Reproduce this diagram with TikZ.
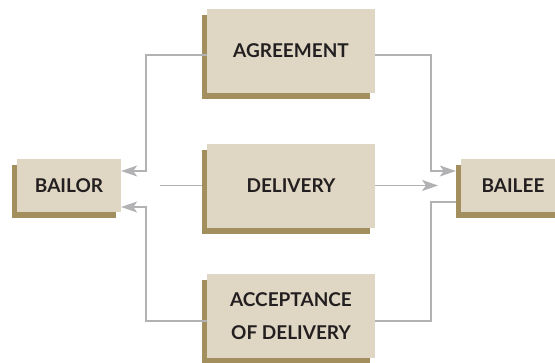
\documentclass[tikz,border=0pt]{standalone}
\usepackage{fontspec}
\newfontfamily\boxfont{Lato}
\usetikzlibrary{shadows,arrows.meta}
\definecolor{boxface}{HTML}{DFD7C4}
\definecolor{boxshade}{HTML}{A38F5E}
\definecolor{linegray}{HTML}{B2B2B4}
\definecolor{textdark}{HTML}{231F20}
\begin{document}
\begin{tikzpicture}[x=1pt,y=-1pt,
  boxstyle/.style={fill=boxface,text=textdark,inner sep=0pt,align=center,
    font=\boxfont\bfseries\fontsize{19}{33}\selectfont,
    drop shadow={shadow xshift=-5pt,shadow yshift=-6pt,fill=boxshade,opacity=1}},
  widebox/.style={boxstyle,minimum width=168pt,minimum height=84pt},
  smallbox/.style={boxstyle,minimum width=104pt,minimum height=53pt},
  linkstyle/.style={draw=linegray,line width=1.2pt},
  arrowstyle/.style={linkstyle,-{Stealth[length=16pt,width=11pt,inset=4pt,fill=linegray]}}]
  \clip (0,0) rectangle (555,362);
  \node [widebox] (agreement) at (291,51) {AGREEMENT};
  \node [widebox] (delivery) at (291,185.5) {DELIVERY};
  \node [widebox] (acceptance) at (291,316) {ACCEPTANCE\\OF DELIVERY};
  \node [smallbox] (bailor) at (69,185.5) {BAILOR};
  \node [smallbox] (bailee) at (513,185.5) {BAILEE};
  \coordinate (deliverytail) at (160,185.5);
  \coordinate (deliverytip) at (438,185.5);

  \draw [arrowstyle] ([yshift=-4pt]agreement.west) -| (146,171) -- ([yshift=14.5pt]bailor.east);
  \draw [arrowstyle] ([yshift=-5pt]acceptance.west) -| (146,207) -- ([yshift=-21.5pt]bailor.east);
  \draw [linkstyle] (deliverytail) -- ([xshift=-5pt]delivery.west);
  \draw [arrowstyle] (delivery.east) -- (deliverytip);
  \draw [arrowstyle] ([yshift=-4pt]agreement.east) -| (431,171) -- ([xshift=-5pt,yshift=14.5pt]bailee.west);
  \draw [linkstyle] ([yshift=-5pt]acceptance.east) -| (431,202) -- ([xshift=-5pt,yshift=-16.5pt]bailee.west);
\end{tikzpicture}
\end{document}
